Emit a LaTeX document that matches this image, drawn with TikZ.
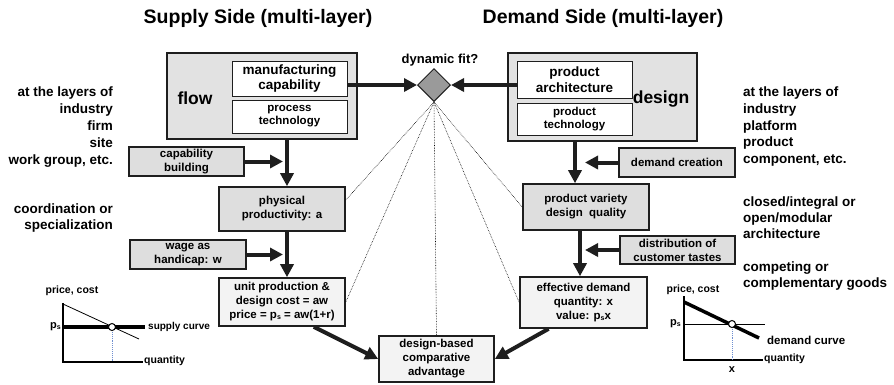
\documentclass[tikz,border=0pt]{standalone}
\usepackage{fontspec}
\setmainfont{Liberation Sans}
\usetikzlibrary{arrows.meta,shapes.geometric}

\definecolor{boxline}{HTML}{1E1E1E}
\definecolor{framegray}{HTML}{E2E2E2}
\definecolor{boxgray}{HTML}{DEDEDE}
\definecolor{boxlight}{HTML}{F3F3F3}
\definecolor{fitgray}{HTML}{9A9A9A}
\definecolor{dropblue}{HTML}{6F8FD0}

\newcommand{\fsize}[2]{\fontsize{#1}{#2}\selectfont\bfseries}
\newcommand{\psx}{p\raisebox{-0.15ex}{\fontsize{7}{7}\selectfont s}}

\begin{document}
\begin{tikzpicture}[x=1pt,y=-1pt,
  frame/.style={draw=boxline,line width=1.6pt,fill=framegray,inner sep=0pt},
  inbox/.style={draw=boxline,line width=1pt,fill=white,align=center,inner sep=0pt},
  greybox/.style={draw=boxline,line width=1.6pt,fill=boxgray,align=center,inner sep=0pt,font=\fsize{11.5}{14}},
  lightbox/.style={greybox,fill=boxlight},
  bigarrow/.style={draw=boxline,line width=4pt,-{Triangle[length=13pt,width=13pt]}},
  fitline/.style={densely dotted,line width=0.6pt},
  sidetext/.style={inner sep=0pt,font=\fsize{13.5}{16.8}},
  axis/.style={line width=1.1pt},
  graphtext/.style={inner sep=0pt,font=\fsize{10.5}{12}}]

\useasboundingbox (0,0) rectangle (894,384);

% headings
\node[font=\fsize{19.5}{22}] (supplytitle) at (258,18) {Supply Side (multi-layer)};
\node[font=\fsize{19.5}{22}] (demandtitle) at (603,18) {Demand Side (multi-layer)};

% supply side
\node[frame,minimum width=190pt,minimum height=86pt] (flow) at (262,96) {};
\node[font=\fsize{17.5}{20}] (flowtxt) at (195,98) {flow};
\node[inbox,minimum width=115pt,minimum height=35pt,font=\fsize{13.5}{15.5}] (mfg) at (289.5,78.5) {manufacturing\\capability};
\node[inbox,minimum width=115pt,minimum height=33pt,font=\fsize{11.5}{13}] (proc) at (289.5,116.5) {process\\technology};

\node[greybox,minimum width=115pt,minimum height=29pt] (capbuild) at (186.5,161.5) {capability\\building};
\node[greybox,minimum width=126pt,minimum height=44pt] (physprod) at (282,209) {physical\\productivity: a};
\node[greybox,minimum width=116pt,minimum height=29pt] (wage) at (188,254.5) {wage as\\handicap: w};
\node[lightbox,minimum width=126pt,minimum height=48pt] (unitprod) at (282,302) {unit production \&\\design cost = aw\\price = \psx{} = aw(1+r)};

% demand side
\node[frame,minimum width=189pt,minimum height=88pt] (design) at (602.5,97) {};
\node[font=\fsize{17.5}{20}] (designtxt) at (661,99) {design};
\node[inbox,minimum width=115pt,minimum height=37pt,font=\fsize{13.5}{15.5}] (parch) at (574.5,79.5) {product\\architecture};
\node[inbox,minimum width=115pt,minimum height=32pt,font=\fsize{11.5}{13}] (ptech) at (574.5,119) {product\\technology};

\node[greybox,minimum width=116pt,minimum height=29pt] (demcre) at (677,162.5) {demand creation};
\node[greybox,minimum width=126pt,minimum height=46pt] (pvar) at (586,207) {product variety\\design\ \ quality};
\node[greybox,minimum width=115pt,minimum height=28pt] (distr) at (677.5,250) {distribution of\\customer tastes};
\node[lightbox,minimum width=127pt,minimum height=51pt] (effdem) at (583.5,302.5) {effective demand\\quantity: x\\value: \psx x};

% fit and result
\node[diamond,aspect=1,draw=boxline,line width=1pt,fill=fitgray,inner sep=0pt,minimum size=33pt] (fit) at (434,85) {};
\node[font=\fsize{13}{15}] (fittxt) at (440,60) {dynamic fit?};
\node[lightbox,minimum width=115pt,minimum height=46pt] (dba) at (436.5,359) {design-based\\comparative\\advantage};

% side notes
\node[sidetext,align=right,anchor=north east] (leftlayers) at (113,87) {at the layers of\\industry\\firm\\site\\work group, etc.};
\node[sidetext,align=right,anchor=north east,font=\fsize{13.5}{15.5}] (coord) at (113,204) {coordination or\\specialization};
\node[sidetext,align=left,anchor=north west,font=\fsize{13.5}{16.6}] (rightlayers) at (743,87) {at the layers of\\industry\\platform\\product\\component, etc.};
\node[sidetext,align=left,anchor=north west,font=\fsize{13.5}{16}] (archnote) at (743,197) {closed/integral or\\open/modular\\architecture};
\node[sidetext,align=left,anchor=north west,font=\fsize{13.5}{15.5}] (goodsnote) at (743,262) {competing or\\complementary goods};

% arrows
\coordinate (capin) at (283,161.5);
\coordinate (wagein) at (283,254.5);
\coordinate (dcin) at (585,162.5);
\coordinate (dtin) at (585,250);

\draw[bigarrow] (fit.west -| mfg.east) -- (fit.west);
\draw[bigarrow] (fit.east -| parch.west) -- (fit.east);
\draw[bigarrow] ([xshift=5pt]physprod.north |- flow.south) -- ([xshift=5pt]physprod.north);
\draw[bigarrow] ([xshift=5pt]unitprod.north |- physprod.south) -- ([xshift=5pt]unitprod.north);
\draw[bigarrow] (capbuild.east) -- (capin);
\draw[bigarrow] (wage.east) -- (wagein);
\draw[bigarrow] ([xshift=-11pt]pvar.north |- design.south) -- ([xshift=-11pt]pvar.north);
\draw[bigarrow] ([xshift=-3.5pt]effdem.north |- pvar.south) -- ([xshift=-3.5pt]effdem.north);
\draw[bigarrow] (demcre.west) -- (dcin);
\draw[bigarrow] (distr.west) -- (dtin);
\draw[bigarrow] (unitprod.-38) -- (dba.west);
\draw[bigarrow] (effdem.-143) -- (dba.east);

\draw[fitline] (fit.south) -- (physprod.8);
\draw[fitline] (fit.south) -- (unitprod.east);
\draw[fitline] (fit.south) -- (dba.north);
\draw[fitline] (fit.south) -- (pvar.west);
\draw[fitline] (fit.south) -- (effdem.west);

% supply curve graph
\draw[axis] (63,303) -- (63,362) -- (143,362);
\draw[line width=0.8pt] (63,304) -- (139,339);
\draw[line width=3.5pt] (63,327) -- (145,327);
\draw[dropblue,densely dotted,line width=0.9pt] (112,330) -- (112,362);
\draw[line width=1pt,fill=white] (112,327) circle (3.5pt);
\node[graphtext] (sprice) at (72,291) {price, cost};
\node[graphtext,anchor=east,font=\fsize{11}{12}] (sps) at (61,327) {\psx};
\node[graphtext,anchor=west] (sqty) at (144,361) {quantity};
\node[graphtext,anchor=west,font=\fsize{10}{12}] (scurve) at (148,327) {supply curve};

% demand curve graph
\draw[axis] (684,296) -- (684,360) -- (763,360);
\draw[line width=0.8pt] (684,324) -- (765,324);
\draw[line width=3.5pt] (684,302) -- (759,338);
\draw[dropblue,densely dotted,line width=0.9pt] (732,327) -- (732,360);
\draw[line width=1pt,fill=white] (732,324) circle (3.5pt);
\node[graphtext] (dprice) at (693,290) {price, cost};
\node[graphtext,anchor=east,font=\fsize{11}{12}] (dps) at (681,324) {\psx};
\node[graphtext,anchor=west] (dqty) at (764,359) {quantity};
\node[graphtext,anchor=west,font=\fsize{11.5}{13}] (dcurve) at (767,340) {demand curve};
\node[graphtext,font=\fsize{11}{12}] (dx) at (732,370) {x};

\end{tikzpicture}
\end{document}
